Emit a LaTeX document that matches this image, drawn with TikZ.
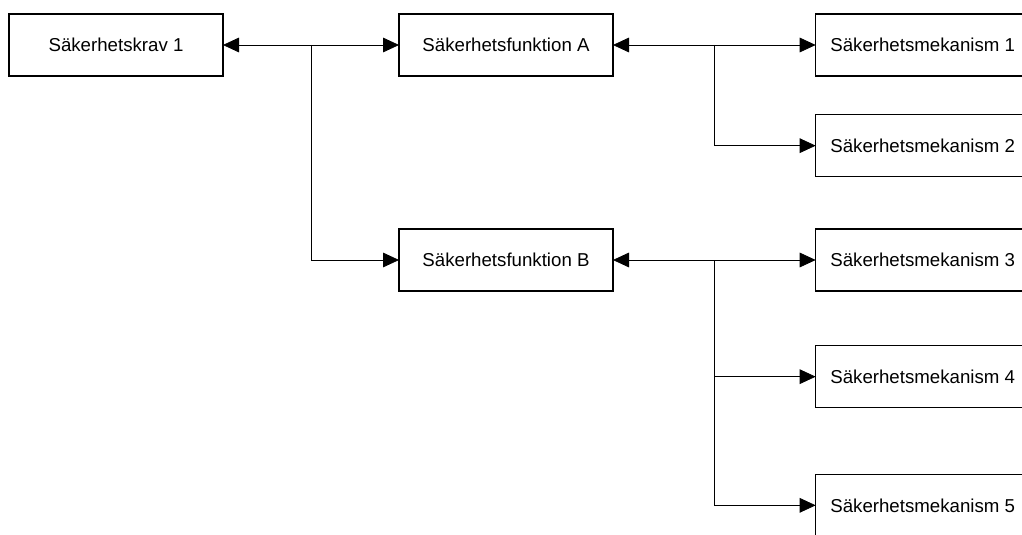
\documentclass[tikz,border=0pt]{standalone}
\usepackage{fontspec}
\setsansfont{Liberation Sans}
\tikzset{every picture/.style={/utils/exec={\sffamily}}}
\usetikzlibrary{calc}
\usetikzlibrary{positioning}
\usetikzlibrary{arrows.meta}

\begin{document}
\begin{tikzpicture}[x=0.75pt, y=-0.75pt,
  box/.style={draw, line width=0.8pt, minimum width=160.5pt, minimum height=46.5pt, inner sep=0pt, outer sep=0pt, font=\fontsize{14}{17}\selectfont},
  link/.style={line width=0.6pt, -{Triangle[length=12pt, width=11pt]}},
  dlink/.style={line width=0.6pt, {Triangle[length=12pt, width=11pt]}-{Triangle[length=12pt, width=11pt]}}]
  \clip (0,0) rectangle (1022,535);
  \node[box] (krav) at (116,45) {Säkerhetskrav 1};
  \node[box, right=132pt of krav] (funkA) {Säkerhetsfunktion A};
  \node[box, below=114.75pt of funkA] (funkB) {Säkerhetsfunktion B};

  \node[box, right=152pt of funkA] (mek1) {Säkerhetsmekanism 1};
  \node[box, below=29pt of mek1] (mek2) {Säkerhetsmekanism 2};
  \node[box, right=152pt of funkB] (mek3) {Säkerhetsmekanism 3};
  \node[box, below=41pt of mek3] (mek4) {Säkerhetsmekanism 4};
  \node[box, below=50pt of mek4] (mek5) {Säkerhetsmekanism 5};

  \coordinate (jkrav) at ($(krav.east)!0.5!(funkA.west)$);
  \coordinate (jA) at ($(funkA.east)!0.5!(mek1.west)$);
  \coordinate (jB) at ($(funkB.east)!0.5!(mek3.west)$);

  \draw[dlink] (krav) -- (funkA);
  \draw[link] (jkrav) |- (funkB);
  \draw[dlink] (funkA) -- (mek1);
  \draw[link] (jA) |- (mek2);
  \draw[dlink] (funkB) -- (mek3);
  \draw[link] (jB) |- (mek4);
  \draw[link] (jB) |- (mek5);
\end{tikzpicture}
\end{document}
